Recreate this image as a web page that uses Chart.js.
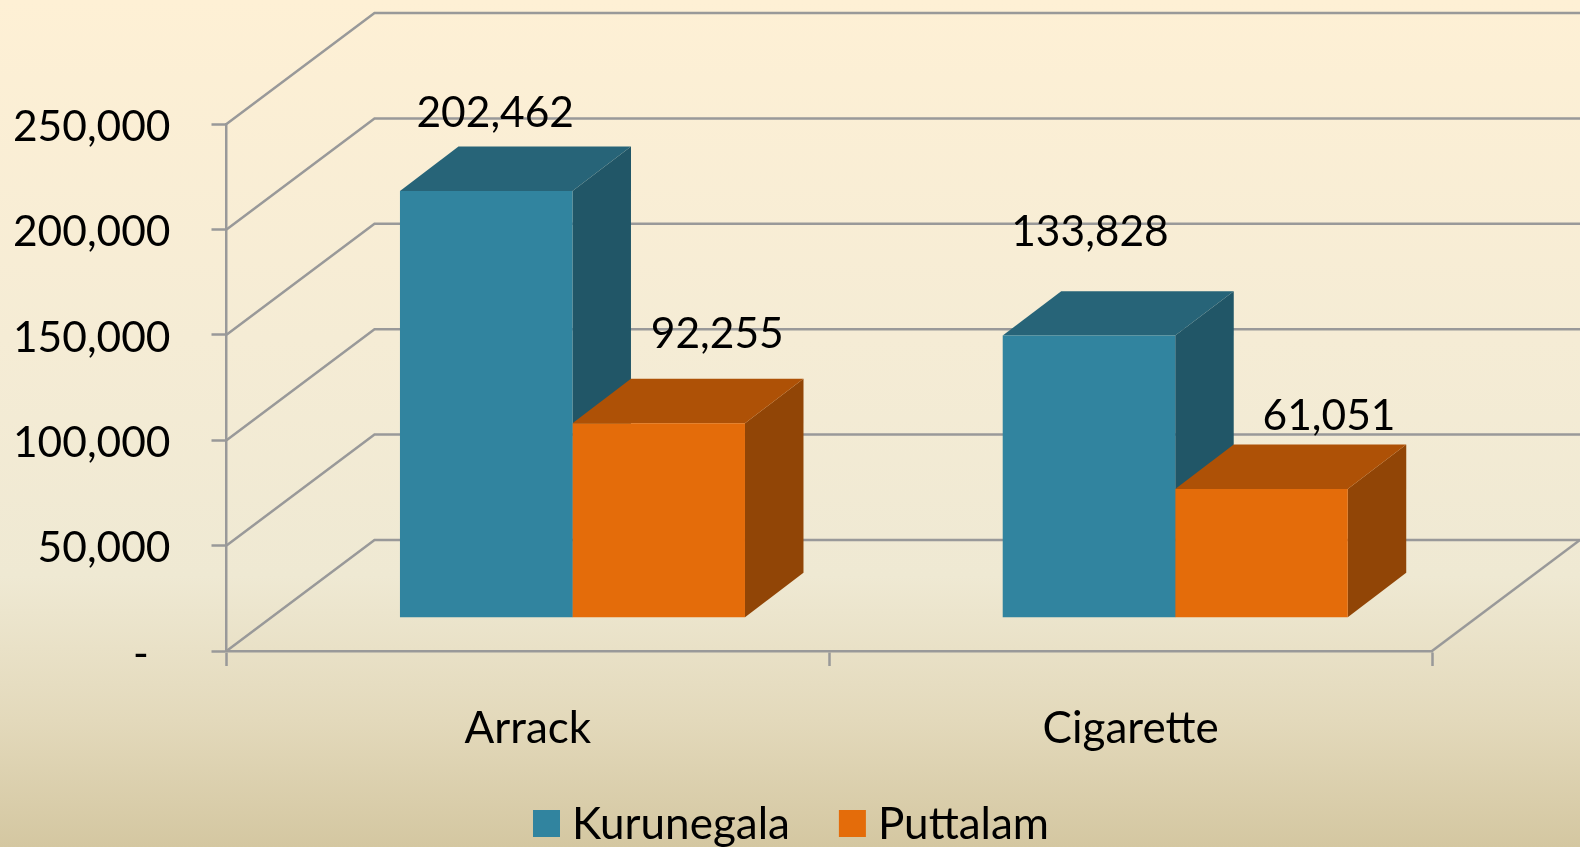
<!DOCTYPE html>
<html>
<head>
<meta charset="utf-8">
<title>Arrack and Cigarette</title>
<script src="https://cdn.jsdelivr.net/npm/chart.js@4"></script>
<style>
html, body { margin: 0; padding: 0; }
body {
	width: 1580px; height: 847px; overflow: hidden;
	background: linear-gradient(180deg, #fef0d5 0%, #f5ecd5 40%, #efe9d3 68%, #e3d9bb 85%, #d4c7a1 100%);
}
canvas { display: block; }
</style>
</head>
<body>
<canvas id="myChart" width="1580" height="847"></canvas>
<script>
var categories = ["Arrack", "Cigarette"]
var kurunegala = [202462, 133828]
var puttalam = [92255, 61051]
var seriesNames = ["Kurunegala", "Puttalam"]
var yTickLabels = ["-  ", "50,000", "100,000", "150,000", "200,000", "250,000"]

var frontColors = ["#31849f", "#e46c0a"]
var topColors = ["#276478", "#ae5106"]
var sideColors = ["#215667", "#914506"]
var lineColor = "#999999"
var fontName = "Lato, Carlito, sans-serif"

// the 3d look: back wall offset, bar depth, and how far bars stand off the front edge
var wall = {dx: 148, dy: -111}
var depth = {dx: 58.5, dy: -44.4}
var gap = {dx: 44.6, dy: -33.3}

// labels were hand placed in the original, offsets from the middle of the bar top
var labelShift = [
	[{x: 9, y: -78}, {x: 1, y: -103.6}],
	[{x: 58.5, y: -88.7}, {x: 67.5, y: -73}]
]

var fake3d = {
	id: "fake3d",
	beforeDatasetsDraw: function (chart) {
		var c = chart.ctx
		var xs = chart.scales.x
		var ys = chart.scales.y
		c.save()
		c.strokeStyle = lineColor
		c.lineWidth = 2.5
		ys.ticks.forEach(function (t) {
			var py = ys.getPixelForValue(t.value)
			c.beginPath()
			c.moveTo(xs.left, py)
			c.lineTo(xs.left + wall.dx, py + wall.dy)
			c.lineTo(chart.width, py + wall.dy)
			c.stroke()
		})
		var py0 = ys.getPixelForValue(0)
		c.beginPath()
		c.moveTo(xs.right, py0)
		c.lineTo(xs.right + wall.dx, py0 + wall.dy)
		c.stroke()

		// sides and tops go under the fronts so the orange front covers the blue side
		c.translate(gap.dx, gap.dy)
		chart.data.datasets.forEach(function (ds, i) {
			chart.getDatasetMeta(i).data.forEach(function (bar) {
				var l = bar.x - bar.width / 2
				var r = bar.x + bar.width / 2
				c.fillStyle = sideColors[i]
				c.beginPath()
				c.moveTo(r, bar.y)
				c.lineTo(r + depth.dx, bar.y + depth.dy)
				c.lineTo(r + depth.dx, bar.base + depth.dy)
				c.lineTo(r, bar.base)
				c.closePath()
				c.fill()
				c.fillStyle = topColors[i]
				c.beginPath()
				c.moveTo(l, bar.y)
				c.lineTo(l + depth.dx, bar.y + depth.dy)
				c.lineTo(r + depth.dx, bar.y + depth.dy)
				c.lineTo(r, bar.y)
				c.closePath()
				c.fill()
			})
		})
		c.restore()
		c.save()
		c.translate(gap.dx, gap.dy)
	},
	afterDatasetsDraw: function (chart) {
		var c = chart.ctx
		c.restore()
		c.save()
		c.font = "42.5px " + fontName
		c.fillStyle = "#000"
		c.textAlign = "center"
		c.textBaseline = "middle"
		chart.data.datasets.forEach(function (ds, i) {
			chart.getDatasetMeta(i).data.forEach(function (bar, k) {
				var s = labelShift[i][k]
				c.fillText(ds.data[k].toLocaleString("en-US"), bar.x + gap.dx + s.x, bar.y + gap.dy + s.y)
			})
		})
		c.restore()
	},
	// the built in legend forces a wide box to text gap, the original has a tight one
	afterDraw: function (chart) {
		var c = chart.ctx
		var x = 533
		c.save()
		c.font = "44px " + fontName
		c.textAlign = "left"
		c.textBaseline = "middle"
		seriesNames.forEach(function (name, i) {
			c.fillStyle = frontColors[i]
			c.fillRect(x, 810, 27, 27)
			c.fillStyle = "#000"
			c.fillText(name, x + 39, 825)
			x += 39 + c.measureText(name).width + 49
		})
		c.restore()
	}
}

var ctx = document.getElementById("myChart")
var myChart = new Chart(ctx, {
	type: "bar",
	data: {
		labels: categories,
		datasets: [
			{label: seriesNames[0], data: kurunegala, backgroundColor: frontColors[0], clip: false},
			{label: seriesNames[1], data: puttalam, backgroundColor: frontColors[1], clip: false}
		]
	},
	plugins: [fake3d],
	options: {
		responsive: false,
		animation: false,
		categoryPercentage: 0.5724,
		barPercentage: 1,
		layout: {padding: {top: 124, right: 148, bottom: 0, left: 0}},
		scales: {
			x: {
				afterFit: function (s) { s.height = 196 },
				border: {color: lineColor, width: 2.5},
				grid: {drawOnChartArea: false, drawTicks: true, tickLength: 15, tickColor: lineColor, tickWidth: 2.5},
				ticks: {color: "#000", font: {family: fontName, size: 44}, padding: 36, maxRotation: 0}
			},
			y: {
				min: 0,
				max: 250000,
				afterFit: function (s) { s.width = 226.5 },
				border: {color: lineColor, width: 2.5},
				grid: {drawOnChartArea: false, drawTicks: true, tickLength: 15, tickColor: lineColor, tickWidth: 2.5},
				ticks: {
					stepSize: 50000,
					color: "#000",
					font: {family: fontName, size: 42.5},
					padding: 41,
					labelOffset: 3,
					callback: function (v, i) { return yTickLabels[i] }
				}
			}
		},
		plugins: {
			tooltip: {enabled: false},
			legend: {display: false}
		}
	}
})
</script>
</body>
</html>
